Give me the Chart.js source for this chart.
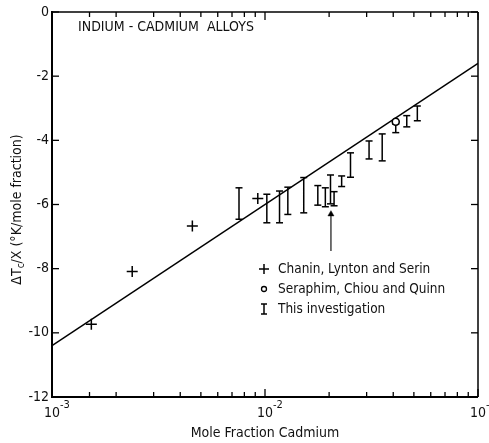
<!DOCTYPE html>
<html>
<head>
<meta charset="utf-8">
<script src="https://cdn.jsdelivr.net/npm/chart.js@4"></script>
<style>
  html, body { margin: 0; padding: 0; background: #fff; }
  #wrap { width: 489px; height: 443px; }
</style>
</head>
<body>
<div id="wrap"><canvas id="chart"></canvas></div>
<script>
// Chanin, Lynton and Serin (crosses)
const chaninX = [0.00153, 0.00238, 0.00456, 0.00925]
const chaninY = [-9.73, -8.09, -6.67, -5.81]
// Seraphim, Chiou and Quinn (circle)
const seraphimX = [0.0411]
const seraphimY = [-3.42]
// this investigation (error bars)
const barX = [0.00755, 0.0102, 0.0117, 0.0128, 0.0152, 0.0177, 0.0192, 0.0203, 0.0211, 0.0229, 0.0252, 0.0308, 0.0355, 0.0411, 0.0463, 0.0519]
const barLow = [-6.46, -6.57, -6.57, -6.31, -6.26, -6.02, -6.07, -5.98, -6.04, -5.44, -5.15, -4.58, -4.64, -3.76, -3.58, -3.39]
const barHigh = [-5.48, -5.68, -5.58, -5.46, -5.16, -5.41, -5.48, -5.08, -5.60, -5.11, -4.39, -4.02, -3.80, -3.50, -3.23, -2.93]
// straight line fit
const fitX = [0.001, 0.1]
const fitY = [-10.4, -1.6]
// arrow
const arrowX = [0.0204, 0.0204]
const arrowY = [-7.45, -6.3]
// axis ticks
const xMajor = [0.001, 0.01, 0.1]
const xMajorExp = ['-3', '-2', '-1']
const xMinor = [0.0015, 0.002, 0.003, 0.004, 0.005, 0.006, 0.007, 0.008, 0.009,
  0.02, 0.03, 0.04, 0.05, 0.06, 0.07, 0.08, 0.09]
const yTicks = [0, -2, -4, -6, -8, -10, -12]
const legendLabels = ['Chanin, Lynton and Serin', 'Seraphim, Chiou and Quinn', 'This investigation']

const FONT = '"DejaVu Sans Condensed", "Liberation Sans Narrow", "DejaVu Sans", sans-serif'

const toPts = (xs, ys) => xs.map((x, i) => ({ x, y: ys[i] }))
let barPts = []
barX.forEach((x, i) => {
  barPts.push({ x, y: barLow[i] }, { x, y: barHigh[i] }, { x, y: null })
})

const decor = {
  id: 'decor',
  afterDraw(chart) {
    const { ctx, chartArea: a, scales: { x, y } } = chart
    ctx.save()
    ctx.strokeStyle = '#000'
    ctx.fillStyle = '#111'
    const seg = (x1, y1, x2, y2, w) => {
      ctx.lineWidth = w || 1.3
      ctx.beginPath(); ctx.moveTo(x1, y1); ctx.lineTo(x2, y2); ctx.stroke()
    }
    // frame
    seg(a.left, a.top, a.right, a.top, 1.3)
    seg(a.right, a.top, a.right, a.bottom, 1.5)
    seg(a.left, a.top - 1, a.left, a.bottom + 1, 2)
    seg(a.left, a.bottom, a.right, a.bottom, 2)
    // x ticks
    xMajor.forEach(v => {
      const px = x.getPixelForValue(v)
      seg(px, a.bottom, px, a.bottom - 8)
      seg(px, a.top, px, a.top + 8)
    })
    xMinor.forEach(v => {
      const px = x.getPixelForValue(v)
      seg(px, a.bottom, px, a.bottom - 5)
      seg(px, a.top, px, a.top + 5)
    })
    // y ticks
    yTicks.forEach(v => {
      const py = y.getPixelForValue(v)
      seg(a.left, py, a.left + 7, py)
      seg(a.right, py, a.right - 7, py)
    })
    // y tick labels
    ctx.font = '14px ' + FONT
    ctx.textAlign = 'right'
    ctx.textBaseline = 'middle'
    yTicks.forEach(v => {
      ctx.fillText(String(v), a.left - 3, y.getPixelForValue(v))
    })
    // x tick labels 10^n
    xMajor.forEach((v, i) => {
      const px = x.getPixelForValue(v)
      ctx.font = '14px ' + FONT
      ctx.textAlign = 'center'
      ctx.textBaseline = 'middle'
      ctx.fillText('10', px, a.bottom + 16)
      const w = ctx.measureText('10').width
      ctx.font = '11px ' + FONT
      ctx.textAlign = 'left'
      ctx.fillText(xMajorExp[i], px + w / 2, a.bottom + 8)
    })
    // x axis title
    ctx.font = '14px ' + FONT
    ctx.textAlign = 'center'
    ctx.textBaseline = 'middle'
    ctx.fillText('Mole Fraction Cadmium', x.getPixelForValue(0.01), a.bottom + 36)
    // y axis title with subscript
    ctx.save()
    ctx.translate(17, (a.top + a.bottom) / 2 + 5)
    ctx.rotate(-Math.PI / 2)
    const p1 = '\u0394T', p2 = 'c', p3 = '/X (\u00b0K/mole fraction)'
    ctx.font = '14px ' + FONT
    const w1 = ctx.measureText(p1).width, w3 = ctx.measureText(p3).width
    ctx.font = '10px ' + FONT
    const w2 = ctx.measureText(p2).width
    let sx = -(w1 + w2 + w3) / 2
    ctx.textAlign = 'left'
    ctx.textBaseline = 'middle'
    ctx.font = '14px ' + FONT
    ctx.fillText(p1, sx, 0)
    ctx.font = '10px ' + FONT
    ctx.fillText(p2, sx + w1, 4)
    ctx.font = '14px ' + FONT
    ctx.fillText(p3, sx + w1 + w2, 0)
    ctx.restore()
    // title
    ctx.font = '14px ' + FONT
    ctx.textAlign = 'left'
    ctx.textBaseline = 'middle'
    ctx.fillText('INDIUM - CADMIUM  ALLOYS', a.left + 26, a.top + 15)
    // legend
    const lx = a.left + 212, ly = a.top + 257, gap = 20
    ctx.font = '13.5px ' + FONT
    legendLabels.forEach((t, i) => ctx.fillText(t, lx + 14, ly + i * gap))
    seg(lx - 5, ly, lx + 5, ly, 1.5)
    seg(lx, ly - 5, lx, ly + 5, 1.5)
    ctx.lineWidth = 1.3
    ctx.beginPath(); ctx.arc(lx, ly + gap, 2.5, 0, Math.PI * 2); ctx.stroke()
    const iy = ly + 2 * gap
    seg(lx, iy - 5, lx, iy + 5, 1.5)
    seg(lx - 3, iy - 5, lx + 3, iy - 5, 1.5)
    seg(lx - 3, iy + 5, lx + 3, iy + 5, 1.5)
    ctx.restore()
  }
}

new Chart(document.getElementById('chart'), {
  type: 'scatter',
  data: {
    datasets: [
      {
        label: legendLabels[1],
        data: toPts(seraphimX, seraphimY),
        pointStyle: 'circle',
        pointRadius: 3.5,
        borderColor: '#000',
        backgroundColor: '#fff',
        pointBorderWidth: 1.6
      },
      {
        label: legendLabels[0],
        data: toPts(chaninX, chaninY),
        pointStyle: 'cross',
        pointRadius: 5.5,
        borderColor: '#000',
        pointBorderWidth: 1.5
      },
      {
        type: 'line',
        label: legendLabels[2],
        data: barPts,
        showLine: true,
        spanGaps: false,
        borderColor: '#000',
        borderWidth: 1.5,
        pointStyle: 'line',
        pointRadius: 3.5,
        pointBorderWidth: 1.5,
        pointBorderColor: '#000'
      },
      {
        type: 'line',
        label: 'arrow',
        data: toPts(arrowX, arrowY),
        showLine: true,
        borderColor: '#000',
        borderWidth: 1.1,
        pointStyle: 'triangle',
        pointRadius: [0, 3.5],
        pointBackgroundColor: '#000',
        pointBorderColor: '#000',
        pointBorderWidth: 0.5
      },
      {
        type: 'line',
        label: 'fit',
        data: toPts(fitX, fitY),
        showLine: true,
        borderColor: '#000',
        borderWidth: 1.5,
        pointRadius: 0
      }
    ]
  },
  options: {
    responsive: true,
    maintainAspectRatio: false,
    animation: false,
    layout: { padding: { left: 52, right: 11, top: 12, bottom: 46 } },
    plugins: { legend: { display: false }, tooltip: { enabled: false } },
    scales: {
      x: { type: 'logarithmic', min: 0.001, max: 0.1, display: false },
      y: { type: 'linear', min: -12, max: 0, display: false }
    }
  },
  plugins: [decor]
})
</script>
</body>
</html>
